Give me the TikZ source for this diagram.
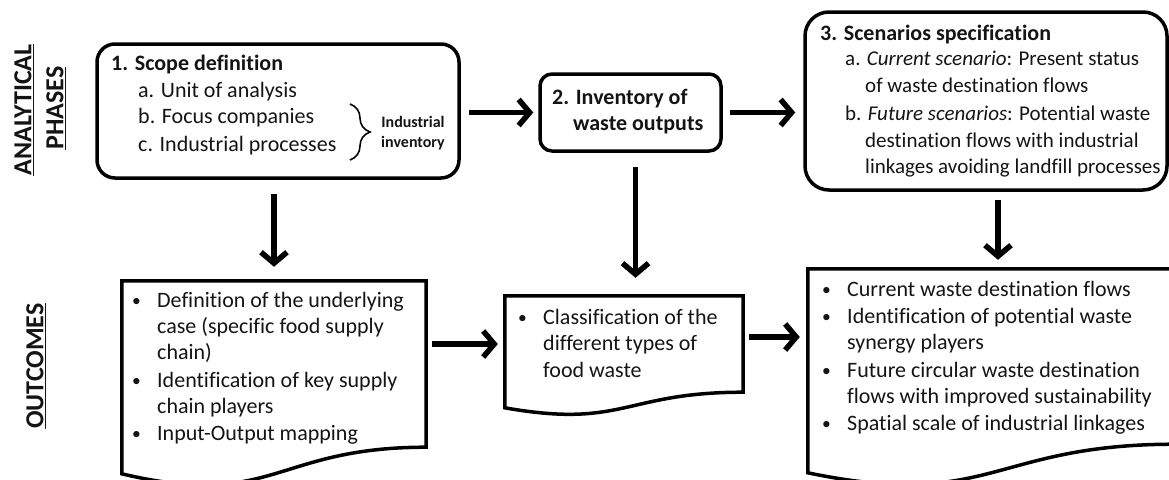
\documentclass[tikz,border=0pt]{standalone}
\usepackage{fontspec}
\setmainfont{Carlito}[Ligatures=CommonOff]
\usetikzlibrary{arrows.meta,calc,decorations.pathreplacing}
\newcommand{\blt}{\makebox[25pt][l]{\raisebox{1pt}{\scalebox{0.8}{\textbullet}}}}
\begin{document}
\begin{tikzpicture}[x=1pt,y=-1pt,
  frame/.style={draw,line width=3.5pt,inner sep=0pt},
  docframe/.style={draw,line width=3.5pt,line join=miter},
  tx/.style={anchor=base west,inner sep=0pt,text=black!92,font=\fontsize{22}{26}\selectfont},
  tc/.style={anchor=base west,inner sep=0pt,text=black!92,font=\fontsize{21}{26}\selectfont},
  tb/.style={anchor=base west,inner sep=0pt,text=black!92,font=\fontsize{22}{26}\selectfont\bfseries},
  lab/.style={rotate=90,inner sep=0pt,text=black!92,font=\fontsize{26}{30}\selectfont\bfseries},
  flow/.style={line width=5.5pt,-{Straight Barb[length=11pt,width=26pt]}},
]
\useasboundingbox (0,0) rectangle (1169,479);
\clip (0,0) rectangle (1169,479);

% side labels
\node[lab] (lan) at (24,110) {\underline{ANALYTICAL}};
\node[lab] (lph) at (56,108) {\underline{PHASES}};
\node[lab] (lout) at (36,366) {\underline{OUTCOMES}};

% phase boxes
\node[frame,rounded corners=18pt,minimum width=362pt,minimum height=134pt] (box1) at (278,111) {};
\node[frame,rounded corners=12pt,minimum width=181pt,minimum height=77pt] (box2) at (630.5,112.5) {};
\node[frame,rounded corners=24pt,minimum width=362pt,minimum height=178pt] (box3) at (986,101) {};

% outcome documents (invisible anchors + drawn shapes)
\node[inner sep=0pt,minimum width=304pt,minimum height=166pt] (doc1) at (274,364) {};
\node[inner sep=0pt,minimum width=238pt,minimum height=96pt] (doc2) at (624,344) {};
\node[inner sep=0pt,minimum width=367pt,minimum height=175pt] (doc3) at (991.5,356.5) {};

\draw[docframe] (doc1.north west) -- (doc1.north east) -- (doc1.south east)
  .. controls +(-152,0) and +(152,36) .. ($(doc1.north west)+(0,193)$) -- cycle;
\draw[docframe] (doc2.north west) -- (doc2.north east) -- (doc2.south east)
  .. controls +(-119,0) and +(119,21) .. ($(doc2.north west)+(0,112)$) -- cycle;
\draw[docframe] (doc3.north west) -- (doc3.north east) -- (doc3.south east)
  .. controls +(-183.5,0) and +(183.5,38) .. ($(doc3.north west)+(0,204)$) -- cycle;

% box 1 text
\node[tb] (s1) at (111,70) {1. Scope definition};
\node[tx] (s1a) at (138,97) {a. Unit of analysis};
\node[tx] (s1b) at (138,123) {b. Focus companies};
\node[tx] (s1c) at (138,151) {c. Industrial processes};
\draw[decorate,decoration={brace,amplitude=20pt},line width=1.6pt] (350,104) -- (350,160);
\node[align=center,inner sep=0pt,text=black!92,font=\fontsize{16}{20}\selectfont\bfseries] (inv) at (413,133) {Industrial\\inventory};

% box 2 text
\node[tb] (s2a) at (552,104) {2. Inventory of};
\node[tb] (s2b) at (573,130) {waste outputs};

% box 3 text
\node[tb] (s3) at (820,40) {3. Scenarios specification};
\node[tc] (s3a) at (845,65) {a. \textit{Current scenario}: Present status};
\node[tc] (s3b) at (865,92) {of waste destination flows};
\node[tc] (s3c) at (845,120) {b. \textit{Future scenarios}: Potential waste};
\node[tc] (s3d) at (865,147) {destination flows with industrial};
\node[tc] (s3e) at (865,173) {linkages avoiding landfill processes};

% doc 1 text
\node[tx] (o1a) at (132,307) {\blt Definition of the underlying};
\node[tx] (o1b) at (157,333) {case (specific food supply};
\node[tx] (o1c) at (157,359) {chain)};
\node[tx] (o1d) at (132,387) {\blt Identification of key supply};
\node[tx] (o1e) at (157,413) {chain players};
\node[tx] (o1f) at (132,440) {\blt Input-Output mapping};

% doc 2 text
\node[tx] (o2a) at (518,324) {\blt Classification of the};
\node[tx] (o2b) at (543,350) {different types of};
\node[tx] (o2c) at (543,377) {food waste};

% doc 3 text
\node[tx] (o3a) at (822,296) {\blt Current waste destination flows};
\node[tx] (o3b) at (822,323) {\blt Identification of potential waste};
\node[tx] (o3c) at (847,349) {synergy players};
\node[tx] (o3d) at (822,377) {\blt Future circular waste destination};
\node[tx] (o3e) at (847,403) {flows with improved sustainability};
\node[tx] (o3f) at (822,430) {\blt Spatial scale of industrial linkages};

% connectors
\draw[flow,shorten <=8pt,shorten >=5pt] (box1.east |- box2.west) -- (box2.west);
\draw[flow,shorten <=7pt,shorten >=8pt] (box2.east) -- (box2.east -| box3.west);
\draw[flow,shorten <=14pt,shorten >=14pt] (doc1.north |- box1.south) -- (doc1.north);
\draw[flow,shorten <=14pt,shorten >=18pt] ([xshift=5pt]box2.south) -- ([xshift=5pt]box2.south |- doc2.north);
\draw[flow,shorten <=8pt,shorten >=9pt] ([xshift=12pt]box3.south) -- ([xshift=12pt]box3.south |- doc3.north);
\draw[flow,shorten <=6pt,shorten >=7pt] (doc2.west -| doc1.east) -- (doc2.west);
\draw[flow,shorten <=6pt,shorten >=8pt] ([yshift=7pt]doc2.east) -- ([yshift=7pt]doc2.east -| doc3.west);
\end{tikzpicture}
\end{document}
